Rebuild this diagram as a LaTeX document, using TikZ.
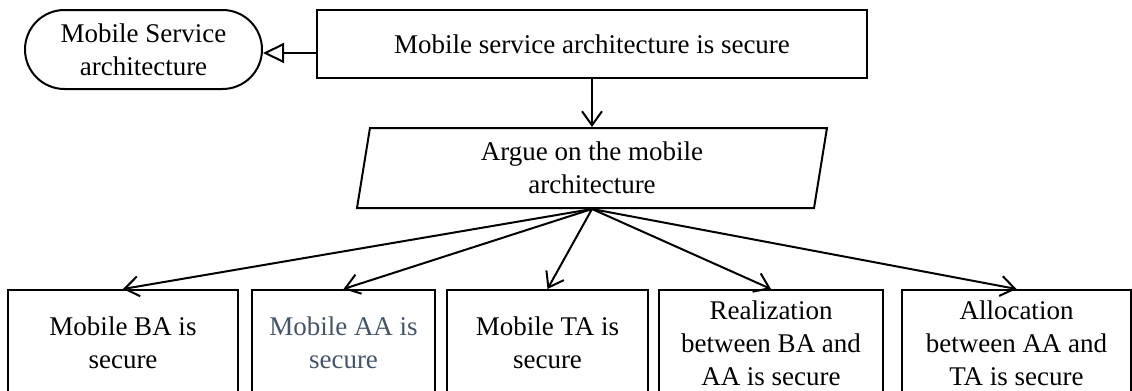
\documentclass[tikz,border=0pt]{standalone}
\usepackage{fontspec}
\setmainfont{Liberation Serif}
\usetikzlibrary{arrows.meta, shapes.geometric, shapes.misc, positioning}
\definecolor{slate}{HTML}{44546A}

\begin{document}
\begin{tikzpicture}[x=0.5pt, y=-0.5pt, line width=1pt,
                    every node/.style={font=\fontsize{13.5pt}{16.5pt}\selectfont, align=center, inner sep=0pt},
                    goal/.style={draw, rectangle},
                    ctx/.style={draw, rounded rectangle},
                    strat/.style={draw, trapezium, trapezium left angle=76, trapezium right angle=104,
                                  trapezium stretches body},
                    sub/.style={-{Straight Barb[length=7pt, width=10pt]}},
                    inctx/.style={-{Triangle[open, length=10.5pt, width=10pt]}}]

  \useasboundingbox (0,0) rectangle (1132,391);

  \node[ctx, minimum width=118.5pt, minimum height=39.5pt] at (143.5,49.5) (service) {Mobile Service\\architecture};
  \node[goal, minimum width=275pt, minimum height=34pt] at (592,44) (top) {Mobile service architecture is secure};
  \node[strat, minimum width=235pt, minimum height=40pt] at (592,168) (argue) {Argue on the mobile\\architecture};

  \node[goal, minimum width=115pt, minimum height=53pt] at (123,343) (ba) {Mobile BA is\\secure};
  \node[goal, minimum width=91.5pt, minimum height=53pt, text=slate] at (343.5,343) (aa) {Mobile AA is\\secure};
  \node[goal, minimum width=100.5pt, minimum height=53pt] at (547.5,343) (ta) {Mobile TA is\\secure};
  \node[goal, minimum width=112pt, minimum height=53pt] at (771,343) (real) {Realization\\between BA and\\AA is secure};
  \node[goal, minimum width=114.5pt, minimum height=53pt] at (1016.5,343) (alloc) {Allocation\\between AA and\\TA is secure};

  \draw[inctx] ([yshift=-4.5pt]top.west) -- ([yshift=-4.5pt]top.west -| service.east);
  \draw[sub] (top) -- (argue);

  \path (argue.south) edge[sub] (ba.north)
                      edge[sub] (aa.north)
                      edge[sub] (ta.north)
                      edge[sub] (real.north)
                      edge[sub] (alloc.north);

\end{tikzpicture}
\end{document}
